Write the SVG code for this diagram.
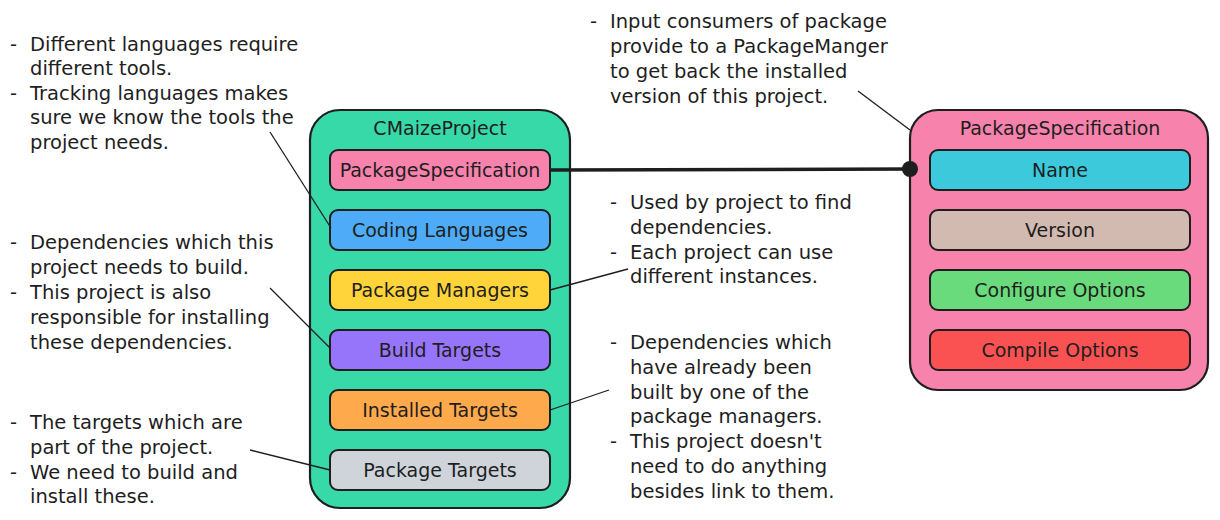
<svg xmlns="http://www.w3.org/2000/svg" width="1220" height="520" viewBox="0 0 1220 520">
<style>
text{font-family:"DejaVu Sans","Liberation Sans",sans-serif;fill:#1e1e1e;font-size:19px}
.n{font-size:19.5px}
.c{text-anchor:middle;dominant-baseline:central}
.box{stroke:#1e1e1e;stroke-width:2}
.cont{stroke:#1e1e1e;stroke-width:2.2}
.ann{stroke:#1e1e1e;stroke-width:1.3;fill:none}
</style>
<rect width="1220" height="520" fill="#ffffff"/>
<g id="cmaize-project">
<rect class="cont" x="310" y="110" width="260" height="398" rx="30" fill="#38d9a9"/>
<text class="c" x="440" y="128">CMaizeProject</text>
</g>
<g id="cp-package-specification">
<rect class="box" x="330" y="150" width="220" height="40" rx="8" fill="#f783ac"/>
<text class="c" x="440" y="170">PackageSpecification</text>
</g>
<g id="cp-coding-languages">
<rect class="box" x="330" y="210" width="220" height="40" rx="8" fill="#4dabf7"/>
<text class="c" x="440" y="230">Coding Languages</text>
</g>
<g id="cp-package-managers">
<rect class="box" x="330" y="270" width="220" height="40" rx="8" fill="#ffd43b"/>
<text class="c" x="440" y="290">Package Managers</text>
</g>
<g id="cp-build-targets">
<rect class="box" x="330" y="330" width="220" height="40" rx="8" fill="#9775fa"/>
<text class="c" x="440" y="350">Build Targets</text>
</g>
<g id="cp-installed-targets">
<rect class="box" x="330" y="390" width="220" height="40" rx="8" fill="#ffa94d"/>
<text class="c" x="440" y="410">Installed Targets</text>
</g>
<g id="cp-package-targets">
<rect class="box" x="330" y="450" width="220" height="40" rx="8" fill="#ced4da"/>
<text class="c" x="440" y="470">Package Targets</text>
</g>
<g id="package-specification">
<rect class="cont" x="910" y="110" width="298" height="280" rx="28" fill="#f783ac"/>
<text class="c" x="1060" y="128">PackageSpecification</text>
</g>
<g id="ps-name">
<rect class="box" x="930" y="150" width="260" height="40" rx="8" fill="#3bc9db"/>
<text class="c" x="1060" y="170">Name</text>
</g>
<g id="ps-version">
<rect class="box" x="930" y="210" width="260" height="40" rx="8" fill="#d2bab0"/>
<text class="c" x="1060" y="230">Version</text>
</g>
<g id="ps-configure-options">
<rect class="box" x="930" y="270" width="260" height="40" rx="8" fill="#69db7c"/>
<text class="c" x="1060" y="290">Configure Options</text>
</g>
<g id="ps-compile-options">
<rect class="box" x="930" y="330" width="260" height="40" rx="8" fill="#fa5252"/>
<text class="c" x="1060" y="350">Compile Options</text>
</g>
<g id="connectors">
<line x1="550" y1="170" x2="910" y2="169" stroke="#1e1e1e" stroke-width="3.5"/>
<circle cx="910" cy="169" r="8" fill="#1e1e1e"/>
<line class="ann" x1="270" y1="132" x2="331" y2="228"/>
<line class="ann" x1="550" y1="290" x2="628" y2="269"/>
<line class="ann" x1="270" y1="288" x2="330" y2="348"/>
<line class="ann" x1="550" y1="410" x2="609" y2="390"/>
<line class="ann" x1="250" y1="450" x2="330" y2="470"/>
<line class="ann" x1="858" y1="91" x2="910" y2="130"/>
</g>
<g id="note-languages">
<text class="n" y="51"><tspan x="10">-</tspan><tspan x="30">Different languages require</tspan></text>
<text class="n" x="30" y="75">different tools.</text>
<text class="n" y="100"><tspan x="10">-</tspan><tspan x="30">Tracking languages makes</tspan></text>
<text class="n" x="30" y="124">sure we know the tools the</text>
<text class="n" x="30" y="149">project needs.</text>
</g>
<g id="note-build">
<text class="n" y="249"><tspan x="10">-</tspan><tspan x="30">Dependencies which this</tspan></text>
<text class="n" x="30" y="274">project needs to build.</text>
<text class="n" y="299"><tspan x="10">-</tspan><tspan x="30">This project is also</tspan></text>
<text class="n" x="30" y="324">responsible for installing</text>
<text class="n" x="30" y="349">these dependencies.</text>
</g>
<g id="note-package-targets">
<text class="n" y="429"><tspan x="10">-</tspan><tspan x="30">The targets which are</tspan></text>
<text class="n" x="30" y="454">part of the project.</text>
<text class="n" y="479"><tspan x="10">-</tspan><tspan x="30">We need to build and</tspan></text>
<text class="n" x="30" y="503">install these.</text>
</g>
<g id="note-spec">
<text class="n" y="28"><tspan x="590">-</tspan><tspan x="610">Input consumers of package</tspan></text>
<text class="n" x="610" y="53">provide to a PackageManger</text>
<text class="n" x="610" y="78">to get back the installed</text>
<text class="n" x="610" y="103">version of this project.</text>
</g>
<g id="note-managers">
<text class="n" y="209"><tspan x="610">-</tspan><tspan x="630">Used by project to find</tspan></text>
<text class="n" x="630" y="234">dependencies.</text>
<text class="n" y="259"><tspan x="610">-</tspan><tspan x="630">Each project can use</tspan></text>
<text class="n" x="630" y="283">different instances.</text>
</g>
<g id="note-installed">
<text class="n" y="349"><tspan x="610">-</tspan><tspan x="630">Dependencies which</tspan></text>
<text class="n" x="630" y="374">have already been</text>
<text class="n" x="630" y="399">built by one of the</text>
<text class="n" x="630" y="423">package managers.</text>
<text class="n" y="448"><tspan x="610">-</tspan><tspan x="630">This project doesn't</tspan></text>
<text class="n" x="630" y="473">need to do anything</text>
<text class="n" x="630" y="498">besides link to them.</text>
</g>
</svg>
